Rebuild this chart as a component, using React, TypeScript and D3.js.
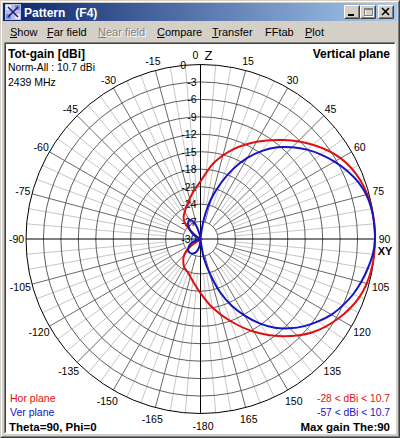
import * as d3 from 'd3';

// dB rings (relative to max gain), angle labels
const dbTicks = [0, -3, -6, -9, -12, -15, -18, -21, -24, -27, -30];
const angleTicks = [0, 15, 30, 45, 60, 75, 90, 105, 120, 135, 150, 165, 180, -165, -150, -135, -120, -105, -90, -75, -60, -45, -30, -15];

// Hor plane (red), dB relative to 10.7 dBi
const horAngles = [0, 10, 20, 30, 40, 50, 60, 70, 80, 90, 100, 110, 120, 130, 140, 150, 160, 170, 180, -170, -160, -150, -140, -135, -130, -125, -90, -55, -50, -45, -40, -35, -30, -20, -10];
const horDb = [-20.1, -16.7, -13.6, -10.7, -7.8, -4.8, -2.2, -0.7, -0.1, 0, -0.15, -0.9, -2.65, -5.0, -8.2, -11.6, -15.0, -18.0, -20.7, -22.6, -23.8, -24.4, -25.4, -26.0, -26.8, -28.3, -38.7, -29.3, -27.8, -26.4, -25.5, -25.0, -24.6, -23.5, -22.0];

// Ver plane (blue)
const verAngles = [0, 5, 8, 11, 15, 20, 25, 30, 35, 40, 45, 50, 55, 60, 65, 70, 75, 80, 85, 90, 95, 100, 105, 110, 115, 120, 125, 130, 135, 140, 145, 150, 155, 160, 165, 170, 175, 180, -175, -170, -160, -150, -140, -130, -120, -110, -100, -90, -70, -60, -50, -40, -30, -20, -10, -5];
const verDb = [-67.7, -30.5, -27.9, -25.5, -22.8, -19.8, -16.7, -13.9, -11.5, -9.4, -7.7, -6.1, -4.7, -3.4, -2.2, -1.2, -0.5, -0.15, -0.03, 0, -0.25, -0.8, -1.4, -2.1, -3.0, -4.0, -5.3, -6.7, -8.3, -10.1, -12.3, -14.8, -17.4, -20.4, -23.9, -26.7, -30.5, -67.7, -30.2, -28.5, -27.5, -27.1, -27.0, -27.2, -27.8, -28.8, -31, -67.7, -31, -28.8, -27.7, -26.7, -26.2, -27.2, -29.3, -31];

const menuItems = ['Show', 'Far field', 'Near field', 'Compare', 'Transfer', 'FFtab', 'Plot'];
const menuX = [10, 47, 98, 157, 212, 265, 305];
const menuUnderline = [7, 6, 8, 7.5, 6.5, 0, 7];

const FONT = '"Liberation Sans", Arial, sans-serif';
const W = 400;
const H = 438;
const cx = 200.5;
const cy = 239;
const R = 174.5;

const rad = (a: number) => (a * Math.PI) / 180;

function Button({ x, kind }: { x: number; kind: 'min' | 'max' | 'close' }) {
  const y = 5;
  const w = 16;
  const h = 14;
  return (
    <g>
      <rect x={x} y={y} width={w} height={h} fill="#D4D0C8" />
      <path d={`M${x + 0.5},${y + h - 0.5}V${y + 0.5}H${x + w - 0.5}`} stroke="#fff" fill="none" />
      <path d={`M${x + 0.5},${y + h - 0.5}H${x + w - 0.5}V${y + 0.5}`} stroke="#404040" fill="none" />
      <path d={`M${x + 1.5},${y + h - 1.5}H${x + w - 1.5}V${y + 1.5}`} stroke="#808080" fill="none" />
      {kind === 'min' && <rect x={x + 4} y={y + 9} width={6} height={2} fill="#000" />}
      {kind === 'max' && (
        <g fill="none">
          <rect x={x + 4.5} y={y + 3.5} width={8} height={7} stroke="#fff" transform="translate(1,1)" />
          <rect x={x + 4.5} y={y + 3.5} width={8} height={7} stroke="#808080" />
          <line x1={x + 4} x2={x + 13} y1={y + 4.5} y2={y + 4.5} stroke="#808080" />
        </g>
      )}
      {kind === 'close' && (
        <g stroke="#000" strokeWidth={1.6}>
          <line x1={x + 4} y1={y + 3} x2={x + 11} y2={y + 10} />
          <line x1={x + 11} y1={y + 3} x2={x + 4} y2={y + 10} />
        </g>
      )}
    </g>
  );
}

function PolarPlot() {
  const r = d3.scaleLinear().domain([-30, 0]).range([0, R]).clamp(true);

  const line = d3
    .lineRadial<[number, number]>()
    .angle((d) => rad(d[0]))
    .radius((d) => r(d[1]))
    .curve(d3.curveCatmullRomClosed.alpha(0.5));

  const horPts = horAngles.map((a, i) => [a, horDb[i]] as [number, number]);
  const verPts = verAngles.map((a, i) => [a, verDb[i]] as [number, number]);

  const minor = d3.range(0, 360, 5).filter((a) => a % 15 !== 0);
  const major = d3.range(0, 360, 15).filter((a) => a % 90 !== 0);
  const rings = dbTicks.filter((d) => d > -30 && d < 0);

  const spoke = (a: number, r0: number, r1: number) => {
    const s = Math.sin(rad(a));
    const c = -Math.cos(rad(a));
    return `M${r0 * s},${r0 * c}L${r1 * s},${r1 * c}`;
  };

  return (
    <g transform={`translate(${cx},${cy})`}>
      {minor.map((a) => (
        <path key={'mi' + a} d={spoke(a, r(-24), R)} stroke="#c6c6c6" fill="none" />
      ))}
      {major.map((a) => (
        <path key={'ma' + a} d={spoke(a, r(-27), R)} stroke="#6a6a6a" fill="none" />
      ))}
      {rings.map((d) => (
        <circle key={'r' + d} r={r(d)} fill="none" stroke="#5e5e5e" />
      ))}
      <circle r={R} fill="none" stroke="#000" />
      <line x1={0} x2={0} y1={-R} y2={R} stroke="#000" />
      <line x1={-R} x2={R} y1={0} y2={0} stroke="#000" />

      {dbTicks.map((d) => (
        <text
          key={'db' + d}
          x={d === 0 ? -14.5 : -4}
          y={-r(d)}
          textAnchor="end"
          dominantBaseline="central"
          fontSize={10.5}
          fill="#000"
        >
          {d}
        </text>
      ))}

      {angleTicks.map((a) => {
        const rr = Math.abs(a) > 90 ? 186.5 : 184;
        let x = rr * Math.sin(rad(a));
        const y = -rr * Math.cos(rad(a));
        if (a === 0) x = -5;
        if (a === 180) x = 2.5;
        return (
          <text key={'a' + a} x={x} y={y} textAnchor="middle" dominantBaseline="central" fontSize={10.5} fill="#000">
            {a === 180 ? '-180' : a}
          </text>
        );
      })}
      <text x={8} y={-184} textAnchor="middle" dominantBaseline="central" fontSize={13} fill="#000">
        Z
      </text>
      <text x={184.5} y={12} textAnchor="middle" dominantBaseline="central" fontSize={11} fontWeight="bold" fill="#000">
        XY
      </text>

      <path d={line(horPts) || ''} fill="none" stroke="#e01010" strokeWidth={2} />
      <path d={line(verPts) || ''} fill="none" stroke="#1414c4" strokeWidth={2} />
    </g>
  );
}

export default function App() {
  return (
    <>
      <style>{'body{margin:0}'}</style>
      <svg width={W} height={H} style={{ display: 'block', fontFamily: FONT }}>
        <defs>
          <linearGradient id="title" x1="0" x2="1" y1="0" y2="0">
            <stop offset="0" stopColor="#0A246A" />
            <stop offset="1" stopColor="#A6CAF0" />
          </linearGradient>
        </defs>
        {/* window frame */}
        <rect x={0} y={0} width={W} height={H} fill="#D4D0C8" />
        <path d={`M1.5,${H - 1.5}V1.5H${W - 1.5}`} stroke="#fff" fill="none" />
        <path d={`M0.5,${H - 0.5}H${W - 0.5}V0.5`} stroke="#404040" fill="none" />
        <path d={`M1.5,${H - 1.5}H${W - 1.5}V1.5`} stroke="#808080" fill="none" />

        {/* title bar */}
        <rect x={3} y={3} width={394} height={18} fill="url(#title)" />
        <g transform="translate(5,4)">
          <rect width={16} height={16} fill="#b8bce8" />
          <rect x={1} y={1} width={5} height={5} fill="#e8e8ff" />
          <rect x={10} y={10} width={5} height={5} fill="#e8e8ff" />
          <rect x={10} y={1} width={5} height={5} fill="#8088d0" />
          <rect x={1} y={10} width={5} height={5} fill="#8088d0" />
          <path d="M3,3L13,13M13,3L3,13" stroke="#1a1a70" strokeWidth={1.5} />
        </g>
        <text x={24} y={16.5} fill="#fff" fontSize={12} fontWeight="bold" style={{ whiteSpace: 'pre' }}>
          {'Pattern   (F4)'}
        </text>
        <Button x={344} kind="min" />
        <Button x={360} kind="max" />
        <Button x={378} kind="close" />

        {/* menu */}
        {menuItems.map((m, i) => {
          const disabled = m === 'Near field';
          return (
            <g key={m}>
              {disabled && (
                <text x={menuX[i] + 1} y={37} fontSize={11} fill="#fff">
                  {m}
                </text>
              )}
              <text x={menuX[i]} y={36} fontSize={11} fill={disabled ? '#808080' : '#000'}>
                {m}
              </text>
              {menuUnderline[i] > 0 && (
                <line
                  x1={menuX[i]}
                  x2={menuX[i] + menuUnderline[i]}
                  y1={37.5}
                  y2={37.5}
                  stroke={disabled ? '#808080' : '#000'}
                />
              )}
            </g>
          );
        })}

        {/* client area */}
        <rect x={4} y={42} width={392} height={392} fill="#fff" />
        <path d="M4.5,433.5V42.5H395.5" stroke="#808080" fill="none" />
        <path d="M5.5,432.5V43.5H394.5" stroke="#404040" fill="none" />
        <path d="M4.5,433.5H395.5V42.5" stroke="#fff" fill="none" />

        <PolarPlot />

        {/* header texts */}
        <text x={8} y={57.5} fontSize={12} fontWeight="bold">
          Tot-gain [dBi]
        </text>
        <text x={8} y={70.5} fontSize={10.5} textLength={87} lengthAdjust="spacingAndGlyphs">
          Norm-All : 10.7 dBi
        </text>
        <text x={8} y={85.5} fontSize={10.5}>
          2439 MHz
        </text>
        <text x={390} y={57.5} fontSize={12} fontWeight="bold" textAnchor="end">
          Vertical plane
        </text>

        {/* legend */}
        <text x={10} y={402} fontSize={10.5} fill="#e01010">
          Hor plane
        </text>
        <text x={10} y={416} fontSize={10.5} fill="#1414c4">
          Ver plane
        </text>
        <text x={9} y={431} fontSize={11.5} fontWeight="bold">
          Theta=90, Phi=0
        </text>
        <text x={317} y={402} fontSize={10.5} fill="#e01010" textLength={73} lengthAdjust="spacingAndGlyphs">
          -28 &lt; dBi &lt; 10.7
        </text>
        <text x={317} y={416} fontSize={10.5} fill="#1414c4" textLength={73} lengthAdjust="spacingAndGlyphs">
          -57 &lt; dBi &lt; 10.7
        </text>
        <text x={390} y={431} fontSize={11.5} fontWeight="bold" textAnchor="end">
          Max gain The:90
        </text>
      </svg>
    </>
  );
}
